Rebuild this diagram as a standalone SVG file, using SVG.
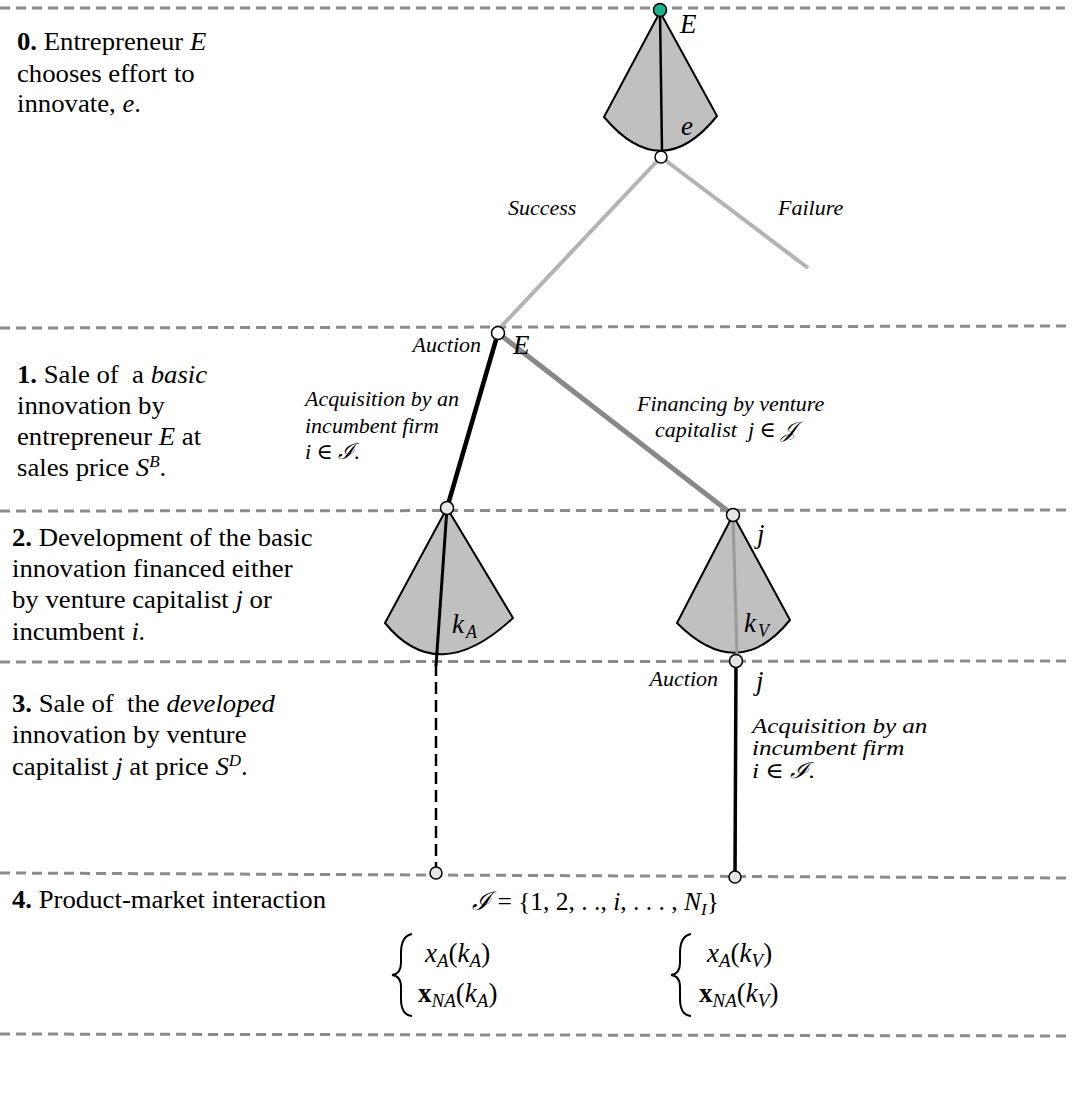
<svg xmlns="http://www.w3.org/2000/svg" width="1075" height="1106" viewBox="0 0 1075 1106">
<style>
.sep{stroke:#8c8c8c;stroke-width:3;stroke-dasharray:10 6;fill:none}
.cone{fill:#c0c0c0;stroke:#000;stroke-width:2;stroke-linejoin:round}
.nd{fill:#fff;stroke:#000;stroke-width:1.5}
.ndg{fill:#e6e6e6;stroke:#000;stroke-width:1.5}
text{font-family:"Liberation Serif","DejaVu Serif",serif;fill:#000}
.step{font-size:25px}
.lab{font-size:22px;font-style:italic}
.it{font-style:italic}
.b{font-weight:bold}
.big{font-size:27px;font-style:italic}
.f{font-size:27px}
.sub{font-size:19px;font-style:italic}
</style>
<rect width="1075" height="1106" fill="#fff"/>
<g id="separators">
<line class="sep" x1="0" y1="8" x2="1065" y2="8"/>
<line class="sep" x1="0" y1="328" x2="1070" y2="326"/>
<line class="sep" x1="0" y1="511" x2="1070" y2="510"/>
<line class="sep" x1="0" y1="662" x2="1070" y2="661"/>
<line class="sep" x1="0" y1="873" x2="1070" y2="878"/>
<line class="sep" x1="0" y1="1034" x2="1070" y2="1036"/>
</g>
<g id="steps" transform="matrix(1.07 0 0 1 0 0)">
<text class="step" x="15.9" y="50"><tspan class="b">0.</tspan> Entrepreneur <tspan class="it">E</tspan></text>
<text class="step" x="15.9" y="82">chooses effort to</text>
<text class="step" x="15.9" y="112">innovate, <tspan class="it">e</tspan>.</text>
<text class="step" x="15.9" y="383"><tspan class="b">1.</tspan> Sale of&#160; a <tspan class="it">basic</tspan></text>
<text class="step" x="15.9" y="414">innovation by</text>
<text class="step" x="15.9" y="445">entrepreneur <tspan class="it">E</tspan> at</text>
<text class="step" x="15.9" y="476">sales price <tspan class="it">S</tspan><tspan class="it" font-size="16" dy="-9">B</tspan><tspan dy="9">.</tspan></text>
<text class="step" x="11.2" y="546"><tspan class="b">2.</tspan> Development of the basic</text>
<text class="step" x="11.2" y="577">innovation financed either</text>
<text class="step" x="11.2" y="608">by venture capitalist <tspan class="it">j</tspan> or</text>
<text class="step" x="11.2" y="640">incumbent <tspan class="it">i.</tspan></text>
<text class="step" x="11.2" y="712"><tspan class="b">3.</tspan> Sale of&#160; the <tspan class="it">developed</tspan></text>
<text class="step" x="11.2" y="743">innovation by venture</text>
<text class="step" x="11.2" y="775">capitalist <tspan class="it">j</tspan> at price <tspan class="it">S</tspan><tspan class="it" font-size="16" dy="-9">D</tspan><tspan dy="9">.</tspan></text>
<text class="step" x="11.2" y="908"><tspan class="b">4.</tspan> Product-market interaction</text>
</g>
<g id="connectors">
<line x1="661" y1="157" x2="497" y2="331" stroke="#b3b3b3" stroke-width="4"/>
<line x1="661" y1="157" x2="808" y2="268" stroke="#b3b3b3" stroke-width="4"/>
<line x1="498" y1="333" x2="447" y2="508" stroke="#000" stroke-width="4.5"/>
<line x1="498" y1="333" x2="733" y2="515" stroke="#888" stroke-width="5"/>
<line x1="436" y1="664" x2="436" y2="873" stroke="#000" stroke-width="2.5" stroke-dasharray="12 6"/>
<line x1="736" y1="661" x2="735" y2="876" stroke="#000" stroke-width="3.5"/>
</g>
<g id="node-E">
<path class="cone" d="M660,12 L604,117 Q661.5,185 717,116 Z"/>
<line x1="660" y1="12" x2="662" y2="151" stroke="#000" stroke-width="2.5"/>
<circle cx="660" cy="10" r="6.5" fill="#19b38c" stroke="#000" stroke-width="1.5"/>
<circle class="nd" cx="661" cy="157" r="6"/>
<text class="big" x="680" y="33">E</text>
<text class="big" x="681" y="135" font-size="24">e</text>
</g>
<g id="labels-success">
<text class="lab" x="508" y="215" font-size="18.5">Success</text>
<text class="lab" x="778" y="215" font-size="19">Failure</text>
</g>
<g id="node-auction1">
<circle class="nd" cx="498" cy="333" r="6.5"/>
<text class="lab" x="481" y="352" text-anchor="end" font-size="21">Auction</text>
<text class="big" x="513" y="354">E</text>
<text class="lab" x="305" y="406" font-size="23">Acquisition by an</text>
<text class="lab" x="305" y="433" font-size="23">incumbent firm</text>
<text class="lab" x="305" y="459" font-size="23">i ∈ ℐ.</text>
<text class="lab" x="637" y="411">Financing by venture</text>
<text class="lab" x="655" y="437">capitalist&#160; j ∈ 𝒥</text>
</g>
<g id="node-kA">
<path class="cone" d="M447,508 L385,623 Q438,688 513,618 Z"/>
<line x1="447" y1="508" x2="436" y2="666" stroke="#000" stroke-width="3"/>
<circle class="ndg" cx="447" cy="508" r="6.5"/>
<text class="big" x="452" y="633" font-size="26">k<tspan font-size="18" dy="5" dx="2">A</tspan></text>
</g>
<g id="node-kV">
<path class="cone" d="M733,515 L677,623 Q738,684 790,620 Z"/>
<line x1="733" y1="515" x2="737" y2="656" stroke="#999" stroke-width="3"/>
<circle class="ndg" cx="733" cy="515" r="6.5"/>
<text class="big" x="757" y="543">j</text>
<text class="big" x="744" y="632" font-size="26">k<tspan font-size="18" dy="5" dx="2">V</tspan></text>
</g>
<g id="node-auction2">
<circle class="ndg" cx="736" cy="661" r="6.5"/>
<text class="lab" x="718" y="686" text-anchor="end" font-size="21">Auction</text>
<text class="big" x="756" y="690">j</text>
<g transform="matrix(1.14 0 0 1 0 0)">
<text class="lab" x="659.6" y="733" font-size="20.5">Acquisition by an</text>
<text class="lab" x="659.6" y="755" font-size="20.5">incumbent firm</text>
<text class="lab" x="659.6" y="778" font-size="20.5">i ∈ ℐ.</text>
</g>
</g>
<g id="terminals">
<circle class="ndg" cx="436" cy="873" r="6"/>
<circle class="ndg" cx="735" cy="877" r="6"/>
<text x="472" y="910" font-size="25.5"><tspan class="it">ℐ</tspan> =  {1, 2, . ., <tspan class="it">i</tspan>, . . . , <tspan class="it">N</tspan><tspan class="it" font-size="17" dy="5">I</tspan><tspan dy="-5">}</tspan></text>
</g>
<g id="payoff-A">
<path d="M412,934 Q401,936 401,953 L401,963 Q401,974 392,975 Q401,976 401,987 L401,999 Q401,1015 412,1016" fill="none" stroke="#000" stroke-width="2"/>
<text class="f" x="425" y="962"><tspan class="it">x</tspan><tspan class="sub" dy="5">A</tspan><tspan dy="-5">(</tspan><tspan class="it">k</tspan><tspan class="sub" dy="5">A</tspan><tspan dy="-5">)</tspan></text>
<text class="f" x="418" y="1002"><tspan class="b">x</tspan><tspan class="sub" dy="5">NA</tspan><tspan dy="-5">(</tspan><tspan class="it">k</tspan><tspan class="sub" dy="5">A</tspan><tspan dy="-5">)</tspan></text>
</g>
<g id="payoff-V">
<path d="M691,934 Q680,936 680,953 L680,963 Q680,974 671,975 Q680,976 680,987 L680,999 Q680,1015 691,1016" fill="none" stroke="#000" stroke-width="2"/>
<text class="f" x="707" y="962"><tspan class="it">x</tspan><tspan class="sub" dy="5">A</tspan><tspan dy="-5">(</tspan><tspan class="it">k</tspan><tspan class="sub" dy="5">V</tspan><tspan dy="-5">)</tspan></text>
<text class="f" x="699" y="1002"><tspan class="b">x</tspan><tspan class="sub" dy="5">NA</tspan><tspan dy="-5">(</tspan><tspan class="it">k</tspan><tspan class="sub" dy="5">V</tspan><tspan dy="-5">)</tspan></text>
</g>
</svg>
